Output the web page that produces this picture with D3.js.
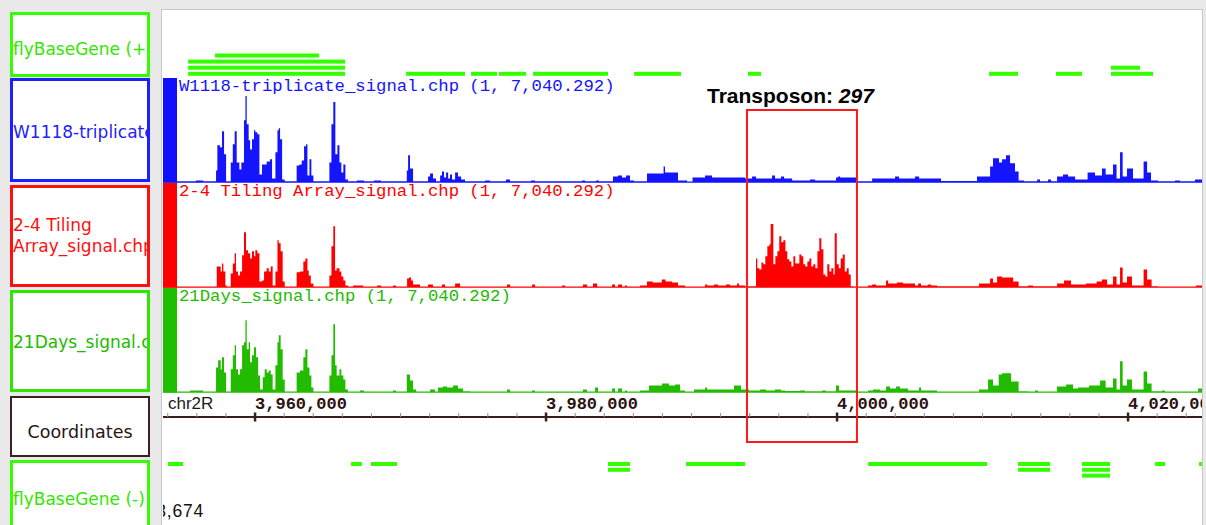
<!DOCTYPE html>
<html>
<head>
<meta charset="utf-8">
<script src="https://cdn.jsdelivr.net/npm/d3@7"></script>
<style>
body { margin: 0; background: #e9e9e9; }
svg { display: block; }
</style>
</head>
<body>
<svg id="chart" width="1206" height="525"></svg>
<script>
// view window on chr2R, in kb
var chromName = "chr2R";
var viewStart = 3953.674, viewEnd = 4025.083;
var majorTicks = [3960, 3980, 4000, 4020];
var tickLabels = ["3,960,000", "3,980,000", "4,000,000", "4,020,000"];
var minorStep = 2;
var signalMin = 1, signalMax = 7040.292;

// [start kb, signal] steps
var w1118Signal = [[3953.68,70],[3955.94,140],[3956.43,70],[3957.32,810],[3957.41,2510],[3957.59,2370],[3957.73,3450],[3957.87,1900],[3958.01,70],
 [3958.33,1350],[3958.47,2570],[3958.60,3450],[3958.74,1350],[3958.92,880],[3959.06,1350],[3959.24,4200],[3959.34,5820],[3959.43,3930],
 [3959.56,2840],[3959.66,2230],[3959.79,2910],[3959.93,3520],[3960.02,3390],[3960.16,3250],[3960.30,540],[3960.48,1220],[3960.80,1420],
 [3961.03,1560],[3961.17,270],[3961.40,2030],[3961.54,3520],[3961.63,3660],[3961.72,2910],[3961.86,200],[3962.04,70],[3962.86,1150],
 [3963.05,1220],[3963.21,1490],[3963.37,2440],[3963.51,2570],[3963.60,470],[3963.74,1560],[3963.87,470],[3964.01,70],[3965.11,1350],
 [3965.25,3930],[3965.38,5420],[3965.52,1900],[3965.66,2510],[3965.80,1350],[3965.93,680],[3966.07,1220],[3966.21,200],[3966.39,70],
 [3967.01,140],[3967.49,70],[3968.18,140],[3968.66,70],[3970.43,810],[3970.52,1830],[3970.65,950],[3970.86,70],[3971.89,410],[3972.03,610],
 [3972.23,270],[3972.44,70],[3972.72,470],[3972.85,740],[3972.99,340],[3973.13,680],[3973.27,270],[3973.40,540],[3973.54,200],[3973.75,680],
 [3973.95,410],[3974.16,200],[3974.43,70],[3975.81,140],[3976.15,70],[3977.25,200],[3977.53,70],[3978.97,140],[3979.24,70],[3982.47,140],
 [3982.68,70],[3983.44,140],[3983.64,70],[3984.60,410],[3984.95,470],[3985.22,340],[3985.50,470],[3985.77,140],[3986.05,70],[3986.94,610],
 [3988.08,1080],[3988.18,680],[3989.07,140],[3989.69,40],[3990.07,340],[3990.93,470],[3991.41,340],[3993.68,270],[3994.16,410],[3994.43,270],
 [3995.53,470],[3995.74,270],[3996.15,410],[3996.36,270],[3996.91,140],[3998.14,200],[3998.49,140],[3999.93,340],[4000.07,410],[4000.21,340],
 [4001.37,70],[4002.41,270],[4003.99,410],[4004.26,270],[4005.36,410],[4005.64,270],[4007.15,100],[4009.62,410],[4010.52,1080],[4010.72,1630],
 [4011.13,1350],[4011.34,1560],[4011.61,1830],[4011.89,1290],[4012.23,740],[4012.48,140],[4012.85,70],[4013.75,200],[4013.95,70],[4014.50,200],
 [4014.71,70],[4015.12,410],[4015.53,540],[4015.88,410],[4016.36,200],[4017.22,680],[4017.73,470],[4018.21,950],[4018.46,540],[4018.97,1220],
 [4019.21,270],[4019.45,2030],[4019.63,410],[4019.93,950],[4020.34,270],[4021.07,1420],[4021.31,680],[4021.58,140],[4022.06,70],[4023.23,140],
 [4023.57,70],[4024.60,200]];

var tilingSignal = [[3953.68,30],[3957.37,1420],[3957.64,1080],[3957.73,1620],[3957.82,1080],[3957.96,140],[3958.05,30],[3958.33,950],
 [3958.47,1620],[3958.60,2300],[3958.69,1080],[3958.83,810],[3958.97,1080],[3959.11,2170],[3959.24,3720],[3959.38,2510],[3959.52,2300],
 [3959.66,1960],[3959.79,2440],[3959.93,2100],[3960.02,2510],[3960.16,2300],[3960.30,410],[3960.48,470],[3960.62,1080],[3960.80,1290],
 [3960.94,1080],[3961.08,1420],[3961.21,140],[3961.40,1080],[3961.54,3180],[3961.63,2980],[3961.76,2440],[3961.90,410],[3962.04,30],
 [3962.86,1020],[3963.09,1080],[3963.32,1760],[3963.46,1960],[3963.60,1150],[3963.69,810],[3963.83,270],[3964.01,30],[3965.11,810],
 [3965.25,2780],[3965.38,4130],[3965.50,1150],[3965.61,1290],[3965.80,1080],[3965.93,740],[3966.07,470],[3966.21,140],[3966.39,30],
 [3966.74,140],[3967.42,30],[3968.39,140],[3968.66,30],[3969.48,140],[3969.69,30],[3970.45,610],[3970.58,680],[3970.72,470],[3970.86,200],
 [3971.34,30],[3971.89,200],[3972.23,30],[3972.85,200],[3973.06,30],[3973.75,270],[3974.09,30],[3977.32,200],[3977.53,30],[3979.04,200],
 [3979.24,30],[3981.10,140],[3981.31,30],[3982.54,200],[3982.82,30],[3983.23,270],[3983.51,30],[3984.54,200],[3984.74,30],[3984.95,200],
 [3985.22,30],[3985.43,140],[3985.57,30],[3986.46,140],[3986.94,410],[3987.33,340],[3987.95,540],[3988.21,410],[3988.66,340],[3989.07,140],
 [3989.55,30],[3990.93,200],[3991.07,140],[3991.55,200],[3991.82,140],[3992.37,200],[3992.65,140],[3993.13,270],[3993.26,140],[3993.68,70],
 [3994.43,1960],[3994.52,1290],[3994.66,1220],[3994.80,1690],[3994.93,1560],[3995.07,2100],[3995.21,2780],[3995.35,2910],[3995.44,4270],
 [3995.62,1560],[3995.76,2100],[3995.90,2440],[3996.03,3450],[3996.17,3050],[3996.31,3180],[3996.45,2440],[3996.58,1900],[3996.72,1760],
 [3996.86,1420],[3997.00,2100],[3997.13,1620],[3997.41,2230],[3997.55,2100],[3997.68,1560],[3997.82,1420],[3997.96,1760],[3998.10,1960],
 [3998.23,1420],[3998.37,1560],[3998.51,1290],[3998.65,2440],[3998.78,3320],[3998.92,2570],[3999.06,880],[3999.20,740],[3999.33,1560],
 [3999.47,1080],[3999.61,1290],[3999.75,880],[3999.84,3660],[3999.98,1560],[4000.12,1290],[4000.25,1960],[4000.39,2230],[4000.53,1080],
 [4000.67,1290],[4000.80,880],[4000.94,70],[4001.12,30],[4002.13,140],[4002.41,200],[4002.68,140],[4003.37,470],[4003.51,270],[4004.12,340],
 [4004.54,270],[4005.36,140],[4005.57,270],[4005.77,140],[4006.25,200],[4006.46,140],[4006.87,70],[4009.76,270],[4010.52,610],[4010.72,340],
 [4011.00,740],[4011.34,680],[4012.10,410],[4012.48,70],[4013.13,140],[4013.47,70],[4015.12,270],[4015.60,470],[4016.08,200],[4017.11,270],
 [4017.84,410],[4018.21,540],[4018.56,200],[4018.97,740],[4019.21,200],[4019.45,1350],[4019.63,340],[4019.93,740],[4020.27,140],[4021.07,1220],
 [4021.31,540],[4021.62,70],[4022.06,30],[4024.67,140]];

var days21Signal = [[3953.68,30],[3955.53,140],[3956.43,30],[3957.32,1690],[3957.46,2170],[3957.64,1560],[3957.73,2370],[3957.87,1350],
 [3958.01,30],[3958.33,1560],[3958.47,2510],[3958.60,3180],[3958.69,1560],[3958.83,1220],[3958.97,1560],[3959.11,3180],[3959.24,3390],
 [3959.34,4870],[3959.43,2910],[3959.56,3390],[3959.66,2030],[3959.79,2510],[3959.93,3050],[3960.07,2370],[3960.21,1150],[3960.34,200],
 [3960.53,1020],[3960.66,1560],[3960.80,1350],[3960.94,1490],[3961.08,1220],[3961.21,200],[3961.40,1830],[3961.54,3390],[3961.63,3860],
 [3961.76,2910],[3961.90,880],[3962.04,30],[3962.86,1350],[3963.09,1490],[3963.32,2370],[3963.46,2910],[3963.60,1690],[3963.74,1150],
 [3963.87,340],[3964.01,30],[3965.11,1150],[3965.25,2510],[3965.38,4600],[3965.50,1830],[3965.61,1150],[3965.80,1560],[3965.93,1150],
 [3966.07,880],[3966.21,200],[3966.39,30],[3967.22,140],[3967.49,30],[3969.48,140],[3969.69,30],[3970.43,1220],[3970.65,810],[3970.86,200],
 [3971.07,30],[3972.03,200],[3972.37,30],[3972.58,340],[3972.92,410],[3973.20,340],[3973.61,470],[3973.95,270],[3974.30,70],[3974.78,30],
 [3977.32,200],[3977.53,30],[3979.04,140],[3979.24,30],[3982.54,200],[3982.82,30],[3983.37,340],[3983.57,30],[3984.54,270],[3984.74,30],
 [3984.95,270],[3985.22,30],[3985.43,140],[3985.57,30],[3986.46,140],[3987.08,470],[3987.97,610],[3988.45,470],[3988.87,540],[3989.21,140],
 [3989.55,30],[3990.17,200],[3990.93,340],[3991.07,200],[3992.92,470],[3993.40,200],[3993.95,140],[3994.71,200],[3995.12,140],[3995.74,200],
 [3996.15,140],[3996.43,100],[3997.46,140],[3997.80,70],[3998.97,140],[3999.24,70],[3999.93,470],[4000.14,140],[4001.37,30],[4002.13,140],
 [4002.47,200],[4002.96,140],[4003.37,410],[4003.64,270],[4004.06,410],[4004.33,270],[4004.88,140],[4005.64,340],[4005.77,140],[4006.87,30],
 [4009.76,200],[4010.38,880],[4010.72,470],[4011.11,1220],[4011.34,1290],[4011.96,740],[4012.48,70],[4013.11,30],[4013.61,140],[4013.81,30],
 [4015.12,410],[4015.74,540],[4016.22,270],[4016.56,340],[4017.32,470],[4018.08,810],[4018.46,340],[4018.97,950],[4019.21,200],[4019.45,2100],
 [4019.63,470],[4019.93,880],[4020.27,200],[4021.07,1420],[4021.31,610],[4021.62,70],[4022.34,140],[4022.54,30],[4024.81,270]];

// genes: [start kb, end kb, row]
var genesPlus = [[3957.25,3964.40,0],[3955.40,3966.19,1],[3955.40,3966.19,2],[3955.40,3966.19,3],
 [3970.38,3974.43,3],[3974.85,3976.63,3],[3976.77,3978.63,3],[3979.11,3984.26,3],[3986.05,3989.28,3],
 [3993.88,3994.78,3],[4010.45,4012.44,3],[4015.05,4016.84,3],[4018.83,4020.82,2],[4018.83,4021.72,3]];
var genesMinus = [[3954.02,3955.05,0],[3966.60,3967.35,0],[3967.97,3969.76,0],[3984.26,3985.77,0],[3984.26,3985.77,1],
 [3989.62,3993.68,0],[4002.13,4010.31,0],[4012.44,4014.64,0],[4012.44,4014.64,1],
 [4016.84,4018.76,0],[4016.84,4018.76,1],[4016.84,4018.76,2],[4021.86,4022.54,0],[4024.88,4025.5,0]];

var transposon = [3993.81, 4001.37];
var transposonCount = 297;

var trackNames = ["W1118-triplicate_signal.chp", "2-4 Tiling Array_signal.chp", "21Days_signal.chp"];
var panelLabels = [["flyBaseGene (+)"], ["W1118-triplicate_signal.chp"], ["2-4 Tiling", "Array_signal.chp"],
 ["21Days_signal.chp"], ["Coordinates"], ["flyBaseGene (-)"]];

var svg = d3.select("#chart");
var X0 = 163, X1 = 1202;
var geneColor = "#33ff00";
var axisColor = "#3a1e1e";

var x = d3.scaleLinear().domain([viewStart, viewEnd]).range([X0, X1]);

svg.append("rect").attr("width", 1206).attr("height", 525).attr("fill", "#e9e9e9");

// main panel
svg.append("rect").attr("x", X0 - 1.5).attr("y", 9.5).attr("width", X1 - X0 + 2).attr("height", 530)
	.attr("fill", "#fff").attr("stroke", "#c9c9c9").attr("stroke-width", 1);
svg.append("clipPath").attr("id", "mainClip").append("rect")
	.attr("x", X0).attr("y", 10).attr("width", X1 - X0).attr("height", 520);
var main = svg.append("g").attr("clip-path", "url(#mainClip)");

// label column
var boxes = [
	{y0: 12, y1: 77, stroke: geneColor, text: "#33e600", sw: 3, base: [55]},
	{y0: 78, y1: 182, stroke: "#1e1eff", text: "#2222ff", sw: 3, base: [138]},
	{y0: 185, y1: 287, stroke: "#ff1010", text: "#ff1010", sw: 3, base: [231, 252]},
	{y0: 290, y1: 392, stroke: "#2ee600", text: "#22bb00", sw: 3, base: [348]},
	{y0: 396, y1: 457, stroke: "#3a2222", text: "#2a1414", sw: 2, base: [438], center: true},
	{y0: 460, y1: 540, stroke: geneColor, text: "#33e600", sw: 3, base: [505]}
];
boxes.forEach(function (b, i) {
	svg.append("rect").attr("x", 10 + b.sw / 2).attr("y", b.y0 + b.sw / 2)
		.attr("width", 140 - b.sw).attr("height", b.y1 - b.y0 - b.sw)
		.attr("fill", "#fff").attr("stroke", b.stroke).attr("stroke-width", b.sw);
	svg.append("clipPath").attr("id", "lab" + i).append("rect")
		.attr("x", 10 + b.sw).attr("y", b.y0).attr("width", 140 - 2 * b.sw).attr("height", b.y1 - b.y0);
	var g = svg.append("g").attr("clip-path", "url(#lab" + i + ")");
	panelLabels[i].forEach(function (t, j) {
		g.append("text").attr("x", b.center ? 80 : 13).attr("y", b.base[j])
			.attr("text-anchor", b.center ? "middle" : "start")
			.style("font-family", "'DejaVu Sans', sans-serif").style("font-size", b.center ? "17.5px" : "17px")
			.style("fill", b.text).text(t);
	});
});

// signal tracks
var trackColors = ["#1414ff", "#ff0000", "#22bb00"];
var stripColors = ["#1010ff", "#ff0000", "#1fbf00"];
var trackTops = [78, 183, 288];
var trackData = [w1118Signal, tilingSignal, days21Signal];
var trackH = 104.5;

trackData.forEach(function (data, i) {
	var top = trackTops[i], base = top + trackH;
	var y = d3.scaleLinear().domain([0, signalMax]).range([base, base - trackH]);
	var pts = data.concat([[viewEnd + 1, data[data.length - 1][1]]]);
	var area = d3.area()
		.curve(d3.curveStepAfter)
		.x(function (d) { return x(d[0]); })
		.y0(base)
		.y1(function (d) { return y(d[1]); });
	main.append("path").attr("d", area(pts)).attr("fill", trackColors[i]);
	main.append("line").attr("x1", X0).attr("x2", X1).attr("y1", base - 0.5).attr("y2", base - 0.5)
		.attr("stroke", trackColors[i]).attr("stroke-width", 1.2);
	main.append("rect").attr("x", X0).attr("y", top).attr("width", 14).attr("height", trackH)
		.attr("fill", stripColors[i]);
	main.append("text").attr("x", X0 + 16).attr("y", top + 12.5)
		.style("font-family", "'Liberation Mono', monospace").style("font-size", "17.3px")
		.style("fill", trackColors[i])
		.text(trackNames[i] + " (" + signalMin + ", " + d3.format(",.3f")(signalMax) + ")");
});

// genes
main.selectAll("rect.gp").data(genesPlus).enter().append("rect").attr("class", "gp")
	.attr("x", function (d) { return x(d[0]); })
	.attr("width", function (d) { return x(d[1]) - x(d[0]); })
	.attr("y", function (d) { return 53.5 + d[2] * 6.1; })
	.attr("height", 4).attr("fill", geneColor);
main.selectAll("rect.gm").data(genesMinus).enter().append("rect").attr("class", "gm")
	.attr("x", function (d) { return x(d[0]); })
	.attr("width", function (d) { return x(d[1]) - x(d[0]); })
	.attr("y", function (d) { return 462 + d[2] * 5.8; })
	.attr("height", 4).attr("fill", geneColor);

// coordinates axis
var axisY = 417;
main.append("line").attr("x1", X0).attr("x2", X1).attr("y1", axisY).attr("y2", axisY)
	.attr("stroke", axisColor).attr("stroke-width", 2);
var minor = d3.range(Math.ceil(viewStart / minorStep) * minorStep, viewEnd, minorStep)
	.filter(function (t) { return majorTicks.indexOf(t) < 0; });
main.selectAll("line.minor").data(minor).enter().append("line").attr("class", "minor")
	.attr("x1", function (d) { return x(d); }).attr("x2", function (d) { return x(d); })
	.attr("y1", axisY - 4).attr("y2", axisY)
	.attr("stroke", "#a08c8c").attr("stroke-width", 1);
main.selectAll("line.major").data(majorTicks).enter().append("line").attr("class", "major")
	.attr("x1", function (d) { return x(d); }).attr("x2", function (d) { return x(d); })
	.attr("y1", axisY - 4.5).attr("y2", axisY + 4.5)
	.attr("stroke", axisColor).attr("stroke-width", 2.5);
main.selectAll("text.tick").data(majorTicks).enter().append("text").attr("class", "tick")
	.attr("x", function (d) { return x(d); }).attr("y", 409)
	.style("font-family", "'Liberation Mono', monospace").style("font-weight", "bold")
	.style("font-size", "17px").style("fill", "#2d1212")
	.text(function (d, i) { return tickLabels[i]; });
main.append("text").attr("x", X0 + 5).attr("y", 409)
	.style("font-family", "'Liberation Sans', Arial, sans-serif").style("font-size", "17px")
	.style("fill", "#1a1a1a").text(chromName);
main.append("text").attr("x", x(viewStart) + 41).attr("y", 517).attr("text-anchor", "end")
	.style("font-family", "'Liberation Sans', Arial, sans-serif").style("font-size", "17.5px")
	.style("letter-spacing", "0.8px")
	.style("fill", "#111").text(d3.format(",")(Math.round(viewStart * 1000)));

// transposon box
main.append("rect").attr("x", x(transposon[0])).attr("y", 110)
	.attr("width", x(transposon[1]) - x(transposon[0])).attr("height", 332)
	.attr("fill", "none").attr("stroke", "#ff1a1a").attr("stroke-width", 2);
var tl = main.append("text").attr("x", x(transposon[0]) - 40).attr("y", 103)
	.style("font-family", "'Liberation Sans', Arial, sans-serif").style("font-weight", "bold")
	.style("font-size", "21px").style("fill", "#000");
tl.append("tspan").text("Transposon: ");
tl.append("tspan").style("font-style", "italic").text(transposonCount);
</script>
</body>
</html>
